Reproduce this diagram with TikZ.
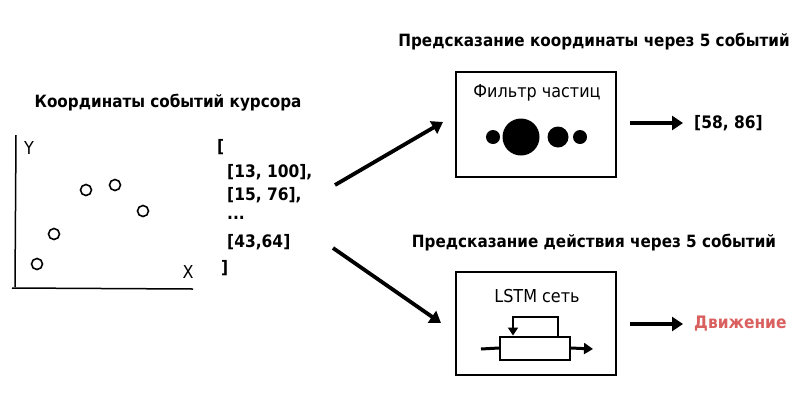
\documentclass[tikz,border=0pt]{standalone}
\usepackage{fontspec}
\setmainfont[FakeStretch=0.9]{DejaVu Sans}
\usetikzlibrary{arrows.meta}
\begin{document}
\begin{tikzpicture}[x=1pt,y=-1pt,
  title/.style={font=\bfseries\fontsize{16.9}{20}\selectfont, inner sep=0pt},
  body/.style={font=\fontsize{17.8}{21}\selectfont, inner sep=0pt},
  list/.style={font=\bfseries\fontsize{17.2}{20}\selectfont, inner sep=0pt, anchor=west},
  box/.style={draw, line width=2pt, minimum width=160pt, minimum height=105pt, inner sep=0pt},
  dot/.style={circle, fill=black, inner sep=0pt},
  pt/.style={circle, draw, line width=1.6pt, minimum size=11pt, inner sep=0pt},
  bigarrow/.style={line width=3.8pt, -{Triangle[length=11pt,width=14pt]}},
  axis/.style={line width=1.5pt}
]
\useasboundingbox (0,0) rectangle (800,400);
% left title
\node[title] (lt) at (168,103) {Координаты событий курсора};
% axes
\coordinate (ytop) at (16,135);
\coordinate (org) at (15,287);
\coordinate (xend) at (193,289);
\coordinate (xstart) at (12,288);
\draw[axis] (ytop) -- (org);
\draw[axis] (xstart) -- (xend);
\node[body] (ylab) at (29,148) {Y};
\node[body] (xlab) at (188,272) {X};
\node[pt] (p1) at (37,264) {};
\node[pt] (p2) at (54,234) {};
\node[pt] (p3) at (86,190) {};
\node[pt] (p4) at (115,185) {};
\node[pt] (p5) at (143,211) {};
% list
\node[list] (l0) at (217,147) {[};
\node[list] (l1) at (227,172) {[13, 100],};
\node[list] (l2) at (227,195) {[15, 76],};
\node[list] (l3) at (227,218) {...};
\node[list] (l4) at (227,242) {[43,64]};
\node[list] (l5) at (221,268) {]};
% arrow anchors
\coordinate (a1s) at (335,185);
\coordinate (a1e) at (443,122);
\coordinate (a2s) at (333,248);
\coordinate (a2e) at (441,323);
\draw[bigarrow] (a1s) -- (a1e);
\draw[bigarrow] (a2s) -- (a2e);
% top box
\node[title] (tt) at (594,42) {Предсказание координаты через 5 событий};
\node[box] (pf) at (536,124) {};
\node[body] (pft) at (537,93) {Фильтр частиц};
\node[dot, minimum size=37pt] (c2) at (521,137) {};
\node[dot, minimum size=14pt] (c1) at (493,137) {};
\node[dot, minimum size=21pt] (c3) at (558,137) {};
\node[dot, minimum size=14pt] (c4) at (580,137) {};
\coordinate (r1s) at (630,123);
\coordinate (r1e) at (683,123);
\draw[bigarrow] (r1s) -- (r1e);
\node[list] (res1) at (694,123) {[58, 86]};
% bottom box
\node[title] (bt) at (594,243) {Предсказание действия через 5 событий};
\node[box, minimum height=103pt] (ls) at (536,323) {};
\node[body] (lst) at (537,296) {LSTM сеть};
\node[draw, line width=2pt, minimum width=70pt, minimum height=23pt, inner sep=0pt] (cell) at (535,348) {};
\coordinate (in) at (481,349);
\coordinate (out) at (593,349);
\draw[line width=3pt] (in) -- (cell.west);
\draw[line width=3pt, -{Triangle[length=9pt,width=11pt]}] (cell.east) -- (out);
\coordinate (fb1) at (558,317);
\coordinate (fb2) at (513,317);
\draw[line width=2.4pt, -{Triangle[length=8pt,width=10pt]}] (cell.north -| fb1) -- (fb1) -- (fb2) -- (cell.north -| fb2);
\coordinate (r2s) at (630,324);
\coordinate (r2e) at (683,324);
\draw[bigarrow] (r2s) -- (r2e);
\node[list, text={rgb,255:red,217;green,96;blue,95}] (res2) at (694,324) {Движение};
\end{tikzpicture}
\end{document}
